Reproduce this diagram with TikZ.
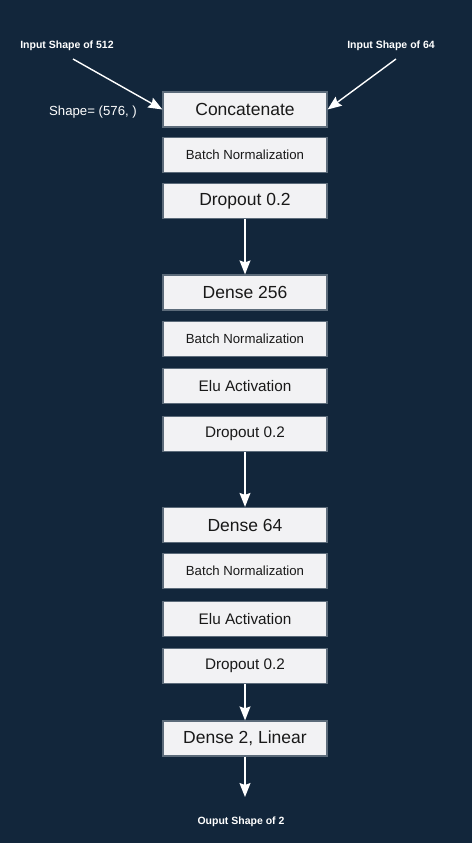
\documentclass[tikz,border=0pt]{standalone}
\usepackage{fontspec}
\setmainfont{Liberation Sans}
\usetikzlibrary{arrows.meta}
\definecolor{bgnavy}{HTML}{12263B}
\definecolor{boxfill}{HTML}{F2F2F4}
\definecolor{boxline}{HTML}{5C6B7A}
\tikzstyle{layer} = [rectangle, draw=boxline, line width=1.2pt, fill=boxfill, minimum width=164pt, minimum height=35pt, inner sep=0pt, text centered, text=black!90, font=\fontsize{17.5}{20}\selectfont]
\tikzstyle{sublayer} = [layer, font=\fontsize{15.3}{18}\selectfont]
\tikzstyle{norm} = [layer, font=\fontsize{13.2}{16}\selectfont]
\tikzstyle{label} = [text=white, font=\bfseries\fontsize{10.5}{12}\selectfont]
\tikzstyle{arrow} = [white, line width=1.4pt, -{Stealth[length=14pt, width=11pt, inset=2pt]}]

\begin{document}
\begin{tikzpicture}[x=1pt, y=-1pt]
    \fill [bgnavy] (0,0) rectangle (472,843);
    \useasboundingbox (0,0) rectangle (472,843);

    \node [label] at (67,46) (in512) {Input Shape of 512};
    \node [label] at (391,46) (in64) {Input Shape of 64};
    \node [text=white, font=\fontsize{13.2}{16}\selectfont] at (93,112) (shape) {Shape= (576, )};

    \node [layer] at (245,109.5) (concat) {Concatenate};
    \node [norm] at (245,155) (bn1) {Batch Normalization};
    \node [layer] at (245,201) (drop1) {Dropout 0.2};

    \node [layer] at (245,292.5) (dense1) {Dense 256};
    \node [norm] at (245,339) (bn2) {Batch Normalization};
    \node [sublayer] at (245,386) (elu1) {Elu Activation};
    \node [sublayer] at (245,434) (drop2) {Dropout 0.2};

    \node [layer] at (245,525) (dense2) {Dense 64};
    \node [norm] at (245,571) (bn3) {Batch Normalization};
    \node [sublayer] at (245,619) (elu2) {Elu Activation};
    \node [sublayer] at (245,666) (drop3) {Dropout 0.2};

    \node [layer] at (245,738.5) (dense3) {Dense 2, Linear};
    \coordinate (outend) at (245,797);
    \node [label] at (241,822) (out) {Ouput Shape of 2};

    \coordinate (start512) at (73,59);
    \coordinate (start64) at (396,59);
    \draw [arrow] (start512) -- (concat.west);
    \draw [arrow] (start64) -- (concat.east);
    \draw [arrow] (drop1) -- (dense1);
    \draw [arrow] (drop2) -- (dense2);
    \draw [arrow] (drop3) -- (dense3);
    \draw [arrow] (dense3) -- (outend);
\end{tikzpicture}
\end{document}
